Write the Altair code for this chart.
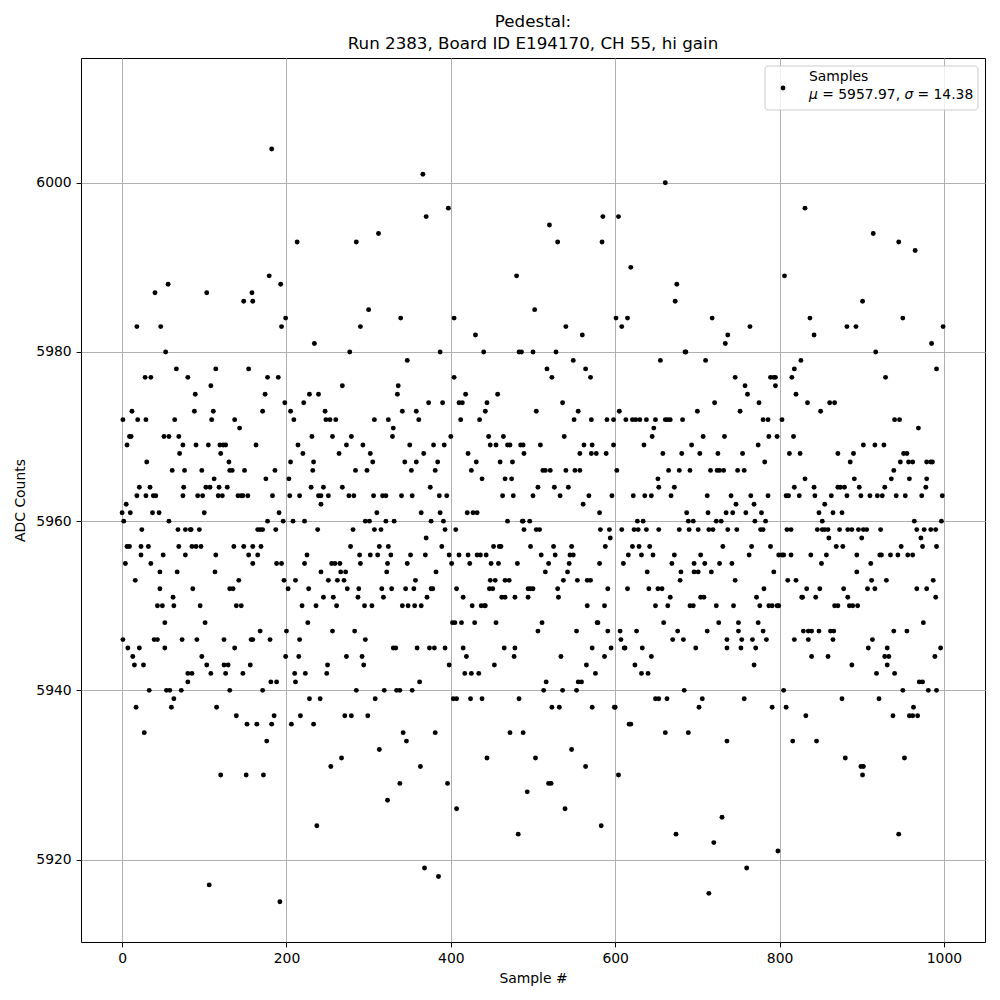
import altair as alt
import pandas as pd

# (sample #, ADC counts), grouped by x strips
pts_000_077 = [(56,5988),(40,5987),(18,5983),(47,5983),(53,5980),(66,5978),(28,5977),(35,5977),(12,5973),(1,5972),
 (19,5972),(29,5972),(64,5972),(9,5970),(11,5970),(51,5970),(57,5970),(69,5970),(74,5969),(6,5969),
 (70,5968),(30,5967),(61,5966),(76,5966),(21,5964),(34,5964),(75,5964),(18,5963),(29,5963),(38,5963),
 (41,5963),(74,5963),(5,5962),(0,5961),(10,5961),(37,5961),(45,5961),(2,5960),(57,5960),(24,5959),
 (68,5959),(77,5959),(6,5957),(9,5957),(23,5957),(32,5957),(69,5957),(23,5956),(50,5956),(77,5956),
 (4,5955),(35,5955),(46,5954),(67,5954),(16,5953),(46,5952),(62,5951),(43,5950),(49,5950),(63,5950),
 (52,5948),(1,5946),(39,5946),(43,5946),(73,5946),(7,5945),(21,5945),(52,5945),(13,5944),(15,5943),
 (26,5943),(33,5940),(54,5940),(58,5940),(72,5940),(63,5939),(17,5938),(60,5938),(27,5935)]

pts_078_159 = [(103,5987),(148,5986),(158,5987),(159,5986),(114,5978),(154,5978),(80,5977),(108,5976),(89,5975),(88,5973),
 (111,5973),(109,5972),(137,5972),(143,5971),(90,5969),(105,5969),(119,5969),(123,5969),(126,5969),(120,5968),
 (130,5967),(97,5966),(131,5966),(134,5966),(149,5966),(112,5965),(102,5964),(107,5964),(118,5964),(128,5964),
 (92,5963),(98,5963),(117,5963),(122,5963),(141,5963),(145,5963),(147,5963),(153,5963),(100,5961),(83,5959),
 (84,5959),(94,5959),(85,5957),(90,5957),(96,5957),(136,5957),(148,5957),(159,5957),(114,5956),(154,5956),
 (159,5955),(113,5954),(142,5953),(86,5952),(131,5952),(135,5952),(95,5950),(139,5950),(145,5950),(101,5948),
 (91,5946),(124,5946),(157,5946),(159,5946),(137,5945),(97,5944),(103,5943),(124,5943),(129,5943),(156,5943),
 (80,5942),(85,5942),(108,5942),(126,5942),(147,5942),(80,5941),(131,5940),(115,5938),(139,5937),(152,5936),
 (120,5930),(151,5930),(106,5917)]

pts_160_242 = [(182,6004),(213,5993),(179,5989),(193,5988),(199,5984),(194,5983),(234,5981),(177,5977),(190,5977),(174,5975),
 (198,5974),(221,5974),(171,5973),(205,5973),(209,5972),(228,5975),(239,5975),(163,5969),(214,5969),(220,5968),
 (231,5970),(205,5967),(233,5967),(186,5966),(232,5966),(175,5965),(203,5965),(183,5963),(204,5963),(216,5963),
 (230,5964),(239,5963),(242,5963),(242,5962),(191,5961),(177,5960),(196,5960),(208,5960),(222,5960),(165,5959),
 (168,5959),(171,5959),(187,5959),(238,5959),(169,5957),(225,5956),(165,5956),(188,5955),(194,5955),(222,5955),
 (242,5954),(197,5953),(211,5953),(202,5952),(227,5952),(219,5950),(236,5950),(226,5948),(180,5946),(216,5946),
 (168,5947),(200,5947),(199,5944),(215,5944),(210,5942),(223,5942),(181,5941),(188,5941),(211,5941),(171,5940),
 (228,5939),(241,5939),(185,5937),(217,5937),(164,5936),(182,5936),(206,5936),(233,5936),(176,5934),(172,5930),
 (237,5924),(192,5915)]

pts_243_324 = [(312,5994),(285,5993),(300,5985),(290,5983),(277,5980),(268,5976),(247,5973),(248,5972),(253,5972),(260,5972),
 (307,5972),(324,5972),(256,5970),(279,5970),(273,5969),(264,5968),(293,5969),(302,5968),(305,5967),(284,5966),
 (298,5966),(245,5964),(268,5964),(251,5963),(276,5963),(282,5963),(306,5963),(317,5963),(321,5963),(310,5961),
 (296,5960),(301,5960),(321,5960),(281,5959),(307,5959),(315,5959),(278,5957),(313,5957),(324,5957),(289,5956),
 (302,5956),(311,5956),(255,5955),(259,5955),(265,5955),(290,5955),(323,5955),(266,5954),(272,5954),(322,5954),
 (251,5953),(262,5953),(270,5953),(274,5952),(288,5952),(316,5952),(245,5951),(257,5951),(287,5951),(318,5951),
 (261,5950),(295,5950),(304,5950),(256,5947),(283,5947),(296,5946),(273,5944),(292,5944),(250,5943),(294,5943),
 (249,5942),(308,5939),(285,5940),(319,5940),(271,5937),(279,5937),(299,5937),(313,5933),(267,5932),(254,5931),
 (323,5927)]

pts_325_407 = [(366,6001),(397,5997),(370,5996),(339,5984),(404,5984),(387,5980),(347,5979),(404,5977),(336,5976),(335,5975),
 (341,5973),(358,5973),(373,5974),(390,5974),(361,5972),(330,5971),(329,5970),(400,5970),(350,5969),(379,5969),
 (392,5969),(367,5968),(344,5967),(358,5967),(384,5967),(352,5966),(381,5966),(375,5964),(340,5963),(353,5963),
 (386,5963),(395,5963),(364,5961),(387,5961),(331,5960),(376,5960),(391,5960),(393,5959),(406,5959),(370,5958),
 (389,5957),(327,5956),(351,5956),(369,5956),(398,5956),(347,5955),(401,5955),(382,5954),(357,5953),(328,5952),
 (345,5952),(355,5952),(376,5952),(378,5952),(407,5952),(371,5951),(341,5950),(348,5950),(356,5950),(364,5950),
 (402,5948),(330,5945),(333,5945),(359,5945),(374,5945),(380,5945),(393,5945),(398,5943),(362,5941),(334,5940),
 (338,5940),(353,5940),(403,5939),(407,5939),(342,5935),(381,5935),(346,5934),(363,5931),(338,5929),(396,5929),
 (407,5926),(368,5919),(385,5918)]

pts_408_489 = [(480,5989),(430,5982),(440,5980),(483,5980),(486,5980),(418,5975),(457,5975),(410,5974),(414,5974),(444,5974),
 (442,5973),(412,5972),(435,5972),(446,5970),(464,5970),(448,5969),(455,5969),(469,5969),(472,5969),(485,5969),
 (488,5969),(421,5968),(489,5968),(431,5967),(460,5967),(475,5967),(425,5966),(438,5965),(466,5965),(474,5965),
 (463,5963),(476,5963),(420,5961),(427,5961),(432,5961),(469,5960),(487,5960),(488,5960),(489,5959),(452,5957),
 (459,5957),(461,5957),(410,5956),(421,5956),(432,5956),(436,5956),(443,5956),(423,5955),(449,5955),(458,5955),
 (481,5955),(448,5953),(454,5953),(466,5953),(471,5953),(447,5952),(451,5952),(415,5951),(462,5951),(466,5951),
 (478,5951),(426,5950),(437,5950),(441,5950),(442,5950),(405,5948),(413,5948),(429,5948),(455,5948),(415,5945),
 (465,5945),(478,5945),(419,5944),(477,5944),(453,5943),(417,5942),(425,5942),(434,5942),(424,5939),(438,5939),
 (483,5939),(472,5935),(488,5935),(444,5932),(482,5923)]

pts_490_572 = [(520,5995),(530,5993),(502,5985),(540,5983),(560,5982),(500,5980),(528,5980),(549,5979),(517,5978),(564,5978),
 (523,5977),(570,5977),(536,5974),(504,5973),(555,5973),(550,5972),(571,5972),(538,5970),(509,5969),(562,5969),
 (572,5969),(557,5968),(571,5968),(512,5966),(515,5966),(521,5966),(540,5966),(551,5966),(557,5966),(506,5964),
 (526,5964),(543,5964),(500,5963),(533,5963),(568,5963),(561,5962),(496,5960),(504,5959),(508,5959),(497,5957),
 (525,5957),(547,5957),(510,5956),(527,5956),(545,5956),(549,5956),(519,5955),(544,5955),(515,5954),(542,5954),
 (537,5953),(554,5953),(566,5953),(570,5953),(494,5952),(497,5952),(500,5952),(530,5952),(494,5951),(531,5951),
 (566,5950),(511,5948),(506,5947),(553,5947),(572,5945),(534,5944),(565,5943),(516,5941),(555,5941),(559,5941),
 (513,5940),(536,5940),(553,5940),(523,5938),(532,5938),(572,5938),(547,5933),(503,5932),(564,5931),(519,5929),
 (522,5929),(493,5928),(539,5926)]

pts_573_655 = [(585,5996),(604,5996),(584,5993),(619,5990),(601,5984),(615,5984),(608,5983),(655,5979),(605,5973),(590,5972),
 (598,5972),(613,5972),(621,5972),(625,5972),(630,5972),(638,5972),(649,5972),(647,5971),(645,5970),(598,5969),
 (635,5969),(577,5968),(589,5968),(602,5966),(652,5965),(653,5964),(596,5963),(622,5963),(636,5963),(644,5963),
 (581,5961),(627,5960),(634,5960),(582,5959),(593,5959),(608,5959),(623,5959),(628,5959),(638,5959),(653,5959),
 (594,5958),(588,5957),(621,5957),(629,5957),(642,5957),(616,5956),(632,5956),(646,5956),(610,5955),(581,5955),
 (639,5954),(591,5952),(615,5952),(641,5952),(652,5952),(587,5950),(649,5950),(578,5948),(579,5948),(591,5947),
 (606,5947),(626,5947),(607,5946),(595,5945),(611,5945),(612,5945),(633,5945),(587,5944),(644,5944),(624,5943),
 (576,5942),(632,5942),(640,5942),(649,5939),(653,5939),(599,5938),(600,5938),(617,5936),(619,5936),(604,5930),
 (583,5924)]

pts_656_737 = [(661,6000),(675,5988),(673,5986),(718,5984),(734,5981),(737,5982),(685,5980),(686,5980),(710,5979),(721,5974),
 (700,5973),(661,5972),(664,5972),(667,5972),(682,5972),(707,5970),(733,5970),(658,5968),(681,5968),(703,5968),
 (725,5968),(693,5969),(665,5966),(678,5966),(691,5966),(716,5966),(724,5966),(727,5966),(732,5966),(672,5964),
 (668,5963),(712,5963),(687,5961),(713,5961),(735,5961),(689,5960),(695,5960),(723,5960),(729,5960),(678,5959),
 (690,5959),(701,5959),(714,5959),(719,5959),(737,5959),(731,5957),(672,5956),(704,5956),(669,5955),(696,5955),
 (709,5955),(727,5955),(680,5954),(696,5954),(701,5954),(717,5954),(679,5953),(657,5952),(667,5951),(704,5951),
 (708,5951),(664,5950),(691,5950),(695,5950),(723,5950),(659,5948),(726,5948),(676,5947),(712,5947),(670,5946),
 (683,5946),(736,5946),(698,5945),(736,5945),(684,5940),(663,5939),(706,5939),(702,5938),(661,5935),(689,5935),
 (736,5934),(730,5925),(674,5923),(720,5922),(714,5916)]

pts_738_820 = [(806,5989),(764,5983),(746,5977),(789,5977),(793,5977),(795,5977),(815,5977),(758,5976),(795,5976),(761,5975),
 (775,5974),(752,5973),(780,5972),(786,5972),(803,5972),(787,5970),(797,5970),(817,5970),(774,5969),(755,5968),
 (812,5968),(782,5967),(749,5966),(757,5966),(818,5964),(741,5963),(765,5963),(786,5963),(808,5963),(811,5963),
 (747,5962),(769,5962),(743,5961),(759,5961),(778,5961),(770,5960),(783,5960),(748,5959),(777,5959),(780,5959),
 (809,5959),(814,5959),(766,5957),(789,5957),(763,5956),(799,5956),(803,5956),(805,5956),(814,5956),(742,5955),
 (793,5954),(746,5953),(810,5953),(820,5953),(781,5952),(772,5951),(744,5950),(776,5950),(787,5950),(791,5950),
 (797,5950),(799,5950),(750,5948),(774,5948),(750,5947),(780,5947),(754,5946),(767,5946),(784,5946),(818,5946),
 (753,5945),(771,5945),(769,5943),(805,5940),(757,5939),(791,5938),(808,5938),(816,5934),(798,5921),(760,5919)]

pts_821_902 = [(831,5997),(901,5986),(837,5984),(842,5982),(882,5983),(893,5983),(826,5979),(818,5978),(820,5975),(834,5974),
 (861,5974),(867,5974),(850,5973),(902,5969),(825,5968),(871,5968),(890,5968),(886,5967),(831,5965),(891,5965),
 (842,5964),(871,5964),(874,5964),(879,5964),(897,5964),(824,5963),(843,5963),(863,5963),(882,5963),(899,5963),
 (855,5962),(848,5961),(865,5961),(876,5961),(852,5960),(846,5959),(852,5959),(855,5959),(859,5959),(873,5959),
 (883,5959),(888,5959),(896,5959),(902,5959),(860,5958),(900,5958),(869,5957),(877,5957),(838,5956),(857,5956),
 (894,5956),(851,5955),(894,5954),(833,5952),(849,5952),(878,5952),(827,5951),(828,5951),(844,5951),(883,5951),
 (867,5950),(871,5950),(885,5950),(889,5950),(895,5950),(829,5947),(835,5947),(839,5947),(848,5947),(862,5947),
 (866,5947),(835,5946),(865,5946),(839,5944),(859,5944),(888,5943),(876,5939),(832,5937),(845,5934),(880,5932),
 (899,5931),(902,5931)]

pts_903_999 = [(914,5994),(945,5993),(965,5992),(950,5984),(985,5981),(917,5980),(991,5978),(929,5977),(940,5972),(946,5972),
 (969,5971),(916,5969),(927,5969),(951,5968),(955,5968),(939,5966),(947,5967),(957,5967),(962,5967),(979,5967),
 (984,5967),(986,5967),(936,5965),(958,5965),(979,5965),(928,5964),(978,5964),(910,5963),(919,5963),(925,5963),
 (942,5963),(953,5963),(973,5963),(964,5960),(906,5959),(923,5959),(967,5959),(976,5959),(984,5959),(990,5959),
 (972,5958),(948,5957),(974,5957),(991,5957),(922,5956),(924,5956),(935,5956),(944,5956),(956,5956),(962,5956),
 (911,5955),(912,5953),(930,5953),(987,5953),(907,5952),(916,5952),(967,5952),(979,5952),(990,5951),(975,5948),
 (939,5947),(955,5947),(913,5946),(908,5945),(931,5945),(928,5944),(933,5944),(989,5944),(931,5943),(918,5942),
 (940,5942),(970,5941),(974,5941),(950,5940),(981,5940),(991,5940),(921,5939),(963,5938),(938,5937),(958,5937),
 (962,5937),(968,5937),(952,5932),(901,5930),(945,5923),(999,5983),(998,5963),(997,5960),(996,5945)]

strips = [pts_000_077, pts_078_159, pts_160_242, pts_243_324, pts_325_407, pts_408_489,
          pts_490_572, pts_573_655, pts_656_737, pts_738_820, pts_821_902, pts_903_999]

x_ticks = [0, 200, 400, 600, 800, 1000]
y_ticks = [5920, 5940, 5960, 5980, 6000]
title_lines = ["Pedestal:", "Run 2383, Board ID E194170, CH 55, hi gain"]
legend_name = "Samples"
mu_text = "= 5957.97,"
sigma_text = "= 14.38"

df = pd.DataFrame([{"sample": s, "adc": v} for strip in strips for s, v in strip])

FONT = "DejaVu Sans"
FS = 13.9

axis_common = dict(
    grid=True, gridColor="#b0b0b0", gridWidth=1.0,
    domain=False, ticks=True, tickColor="black", tickWidth=1.0, tickSize=4.9,
    labelFont=FONT, labelFontSize=FS, labelColor="black", labelPadding=4.9,
    labelOverlap=False, labelFlush=False, format="d",
    titleFont=FONT, titleFontSize=FS, titleFontWeight="normal", titleColor="black",
)

points = alt.Chart(df).mark_circle(size=24, color="black", opacity=1).encode(
    x=alt.X("sample:Q", scale=alt.Scale(domain=[-50, 1050], nice=False, zero=False),
            axis=alt.Axis(values=x_ticks, title="Sample #", titlePadding=6, **axis_common)),
    y=alt.Y("adc:Q", scale=alt.Scale(domain=[5910.25, 6014.75], nice=False, zero=False),
            axis=alt.Axis(values=y_ticks, title="ADC Counts", titlePadding=8, **axis_common)),
)

one = pd.DataFrame({"k": [0]})
legend_box = alt.Chart(one).mark_rect(
    fill="white", fillOpacity=0.8, stroke="#cccccc", strokeWidth=1, cornerRadius=3
).encode(x=alt.value(684), x2=alt.value(897), y=alt.value(8), y2=alt.value(52))
legend_dot = alt.Chart(one).mark_circle(size=24, color="black", opacity=1).encode(
    x=alt.value(702), y=alt.value(30))
txt = dict(align="left", baseline="middle", font=FONT, fontSize=FS, color="black")
legend_t1 = alt.Chart(one).mark_text(**txt).encode(x=alt.value(728), y=alt.value(19), text=alt.value(legend_name))
legend_mu = alt.Chart(one).mark_text(fontStyle="italic", **txt).encode(x=alt.value(728), y=alt.value(37), text=alt.value("μ"))
legend_mu_v = alt.Chart(one).mark_text(**txt).encode(x=alt.value(741.2), y=alt.value(37), text=alt.value(mu_text))
legend_sg = alt.Chart(one).mark_text(fontStyle="italic", **txt).encode(x=alt.value(823.6), y=alt.value(37), text=alt.value("σ"))
legend_sg_v = alt.Chart(one).mark_text(**txt).encode(x=alt.value(836.4), y=alt.value(37), text=alt.value(sigma_text))

chart = alt.layer(points, legend_box, legend_dot, legend_t1, legend_mu, legend_mu_v, legend_sg, legend_sg_v).properties(
    width=904, height=884,
    title=alt.TitleParams(text=title_lines, font=FONT, fontSize=16.7, fontWeight="normal", color="black",
                          anchor="middle", lineHeight=22, offset=5),
    padding={"left": 73, "top": 50, "right": 7, "bottom": 44},
    autosize=alt.AutoSizeParams(type="none"),
).configure(background="white").configure_view(stroke="black", strokeWidth=1)

chart.save("out.html", embed_options={"renderer": "svg", "actions": False})
